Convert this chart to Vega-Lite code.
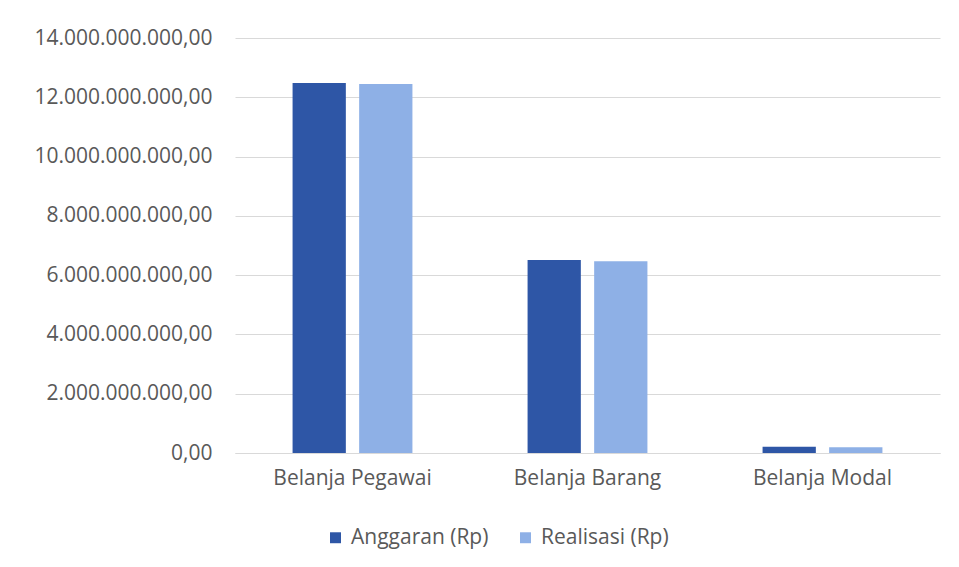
{
  "$schema": "https://vega.github.io/schema/vega-lite/v6.json",
  "width": 705,
  "height": 415,
  "padding": {"left": 33, "top": 27, "right": 10, "bottom": 10},
  "background": "white",
  "config": {
    "locale": {"number": {"decimal": ",", "thousands": ".", "grouping": [3], "currency": ["Rp", ""]}},
    "view": {"stroke": null},
    "font": "Open Sans",
    "axis": {"labelFont": "Open Sans", "labelColor": "#595959", "labelFontSize": 21}
  },
  "data": {
    "values": [
      {"kategori": "Belanja Pegawai", "seri": "Anggaran (Rp)", "nilai": 12480000000},
      {"kategori": "Belanja Pegawai", "seri": "Realisasi (Rp)", "nilai": 12450000000},
      {"kategori": "Belanja Barang", "seri": "Anggaran (Rp)", "nilai": 6510000000},
      {"kategori": "Belanja Barang", "seri": "Realisasi (Rp)", "nilai": 6470000000},
      {"kategori": "Belanja Modal", "seri": "Anggaran (Rp)", "nilai": 210000000},
      {"kategori": "Belanja Modal", "seri": "Realisasi (Rp)", "nilai": 190000000}
    ]
  },
  "mark": {"type": "bar"},
  "encoding": {
    "x": {
      "field": "kategori",
      "type": "nominal",
      "sort": null,
      "scale": {"paddingInner": 0.49, "paddingOuter": 0.245},
      "axis": {"title": null, "labelAngle": 0, "ticks": false, "domain": true, "domainColor": "#d9d9d9", "labelPadding": 14}
    },
    "xOffset": {"field": "seri", "type": "nominal", "scale": {"paddingInner": 0.2}},
    "y": {
      "field": "nilai",
      "type": "quantitative",
      "scale": {"domain": [0, 14000000000], "nice": false},
      "axis": {"title": null, "values": [0, 2000000000, 4000000000, 6000000000, 8000000000, 10000000000, 12000000000, 14000000000], "format": ",.2f", "ticks": false, "domain": false, "gridColor": "#d9d9d9", "labelPadding": 23}
    },
    "color": {
      "field": "seri",
      "type": "nominal",
      "scale": {"range": ["#2E56A6", "#8EB0E6"]},
      "legend": {"title": null, "orient": "none", "legendX": 90, "legendY": 489, "direction": "horizontal", "symbolType": "square", "symbolSize": 120, "labelFontSize": 21, "labelColor": "#595959", "labelFont": "Open Sans", "columnPadding": 26, "labelOffset": 5}
    }
  }
}
